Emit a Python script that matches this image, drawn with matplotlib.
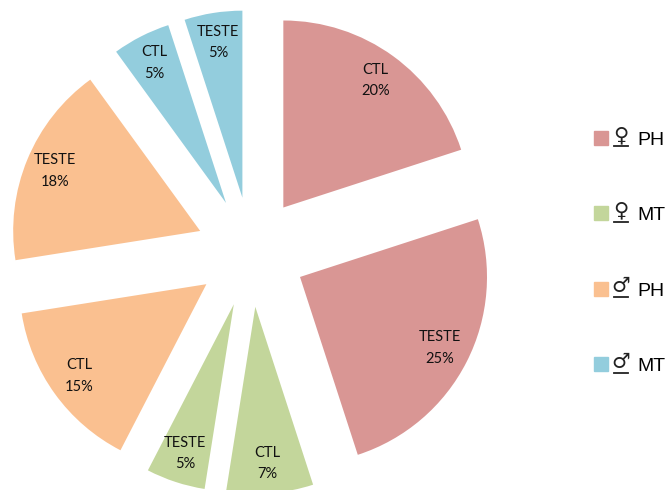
import matplotlib
matplotlib.use("Agg")
import matplotlib.pyplot as plt
from matplotlib.patches import Patch

groups = ["CTL", "TESTE", "CTL", "TESTE", "CTL", "TESTE", "CTL", "TESTE"]
values = [20, 25, 7.5, 5.1, 14.9, 17.5, 5, 5]
percents = [20, 25, 7, 5, 15, 18, 5, 5]
sliceColors = ["#D99694", "#D99694", "#C3D69B", "#C3D69B", "#FAC090", "#FAC090", "#93CDDD", "#93CDDD"]
legendLabels = ["PH", "MT", "PH", "MT"]
legendSymbols = ["♀", "♀", "♂", "♂"]
legendColors = ["#D99694", "#C3D69B", "#FAC090", "#93CDDD"]

fig = plt.figure(figsize=(6.7, 4.9), dpi=100)
ax = fig.add_axes([0, 0, 1, 1])

sliceLabels = [g + "\n" + str(p) + "%" for g, p in zip(groups, percents)]

# axes run in pixels, so explode and radius are pixels too
wedges, texts = ax.pie(values, labels=sliceLabels, colors=sliceColors,
                       center=(251, 238), radius=187, explode=[55] * len(values),
                       startangle=90, counterclock=False, labeldistance=0.84,
                       frame=True, textprops={"family": "Lato", "fontsize": 10.5, "color": "#111111"})
for t in texts:
    t.set_ha("center")
    t.set_va("center")
    t.set_linespacing(1.7)

ax.set_xlim(0, 670)
ax.set_ylim(0, 490)
ax.set_aspect("equal")
ax.axis("off")

handles = [Patch(color=c) for c in legendColors]
ax.legend(handles, legendLabels, loc="center left", bbox_to_anchor=(594 / 670, 237 / 490),
          frameon=False, prop={"family": "Liberation Sans", "size": 14},
          labelspacing=2.97, handlelength=0.72, handleheight=0.72, handletextpad=1.5,
          borderpad=0, borderaxespad=0)

# gender signs sit between swatch and label, underlined like the original
for i, s in enumerate(legendSymbols):
    y = 490 - 137 - i * 75.7
    ax.text(621, y + 2, s, ha="center", va="center", fontsize=15, family="DejaVu Sans", color="#222222")
    ax.plot([614, 628], [y - 9, y - 9], color="#222222", lw=1.3)

fig.savefig("out.png", dpi=100)
